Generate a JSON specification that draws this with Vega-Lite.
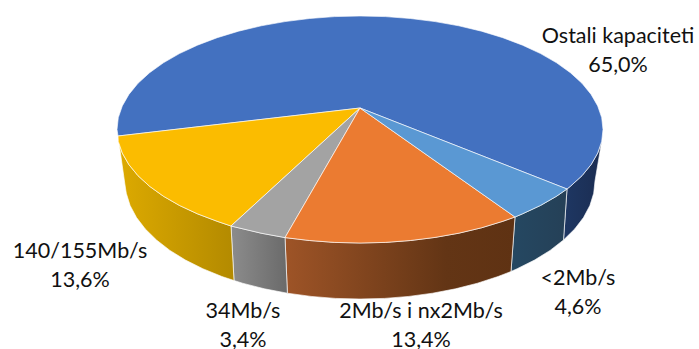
{"$schema":"https://vega.github.io/schema/vega-lite/v6.json","width":699,"height":349,"autosize":{"type":"none"},"padding":0,"background":"white","view":{"stroke":null},
"datasets":{
"side_blue":[{"i":0,"x":567,"y":189},{"i":1,"x":570.4,"y":186.3},{"i":2,"x":582,"y":175.7},{"i":3,"x":591.1,"y":164.6},{"i":4,"x":597.7,"y":153.1},{"i":5,"x":601.7,"y":141.4},{"i":6,"x":595,"y":181},{"i":7,"x":593.7,"y":193.3},{"i":8,"x":589.9,"y":205.5},{"i":9,"x":583.5,"y":217.5},{"i":10,"x":574.7,"y":229},{"i":11,"x":563.5,"y":240},{"i":12,"x":567,"y":189}],
"side_lightblue":[{"i":0,"x":515,"y":217},{"i":1,"x":522.6,"y":213.8},{"i":2,"x":540.6,"y":205.4},{"i":3,"x":556.6,"y":196.2},{"i":4,"x":567,"y":189},{"i":5,"x":563.5,"y":240},{"i":6,"x":550.1,"y":250.4},{"i":7,"x":534.6,"y":260},{"i":8,"x":517.2,"y":268.7},{"i":9,"x":511,"y":271.5},{"i":10,"x":515,"y":217}],
"side_orange":[{"i":0,"x":285,"y":237.6},{"i":1,"x":309.5,"y":240.5},{"i":2,"x":334.6,"y":242.4},{"i":3,"x":360,"y":243},{"i":4,"x":385.4,"y":242.4},{"i":5,"x":410.5,"y":240.5},{"i":6,"x":435.1,"y":237.4},{"i":7,"x":458.8,"y":233.2},{"i":8,"x":481.5,"y":227.8},{"i":9,"x":502.8,"y":221.3},{"i":10,"x":515,"y":217},{"i":11,"x":511,"y":271.5},{"i":12,"x":498.1,"y":276.5},{"i":13,"x":477.5,"y":283.2},{"i":14,"x":455.6,"y":288.8},{"i":15,"x":432.6,"y":293.2},{"i":16,"x":408.9,"y":296.4},{"i":17,"x":384.6,"y":298.4},{"i":18,"x":360,"y":299},{"i":19,"x":335.4,"y":298.4},{"i":20,"x":311.1,"y":296.4},{"i":21,"x":287.4,"y":293.2},{"i":22,"x":285,"y":237.6}],
"side_gray":[{"i":0,"x":231,"y":226},{"i":1,"x":238.5,"y":227.8},{"i":2,"x":261.2,"y":233.2},{"i":3,"x":285,"y":237.6},{"i":4,"x":287.4,"y":293.2},{"i":5,"x":264.4,"y":288.8},{"i":6,"x":242.5,"y":283.2},{"i":7,"x":234,"y":280.5},{"i":8,"x":231,"y":226}],
"side_yellow":[{"i":0,"x":118,"y":136},{"i":1,"x":118.3,"y":141.4},{"i":2,"x":122.3,"y":153.1},{"i":3,"x":128.9,"y":164.6},{"i":4,"x":138,"y":175.7},{"i":5,"x":149.6,"y":186.3},{"i":6,"x":163.4,"y":196.2},{"i":7,"x":179.4,"y":205.4},{"i":8,"x":197.4,"y":213.8},{"i":9,"x":217.2,"y":221.3},{"i":10,"x":231,"y":226},{"i":11,"x":234,"y":280.5},{"i":12,"x":221.9,"y":276.5},{"i":13,"x":202.8,"y":268.7},{"i":14,"x":185.4,"y":260},{"i":15,"x":169.9,"y":250.4},{"i":16,"x":156.5,"y":240},{"i":17,"x":145.3,"y":229},{"i":18,"x":136.5,"y":217.5},{"i":19,"x":130.1,"y":205.5},{"i":20,"x":126.3,"y":193.3},{"i":21,"x":125,"y":185},{"i":22,"x":118,"y":136}],
"top_blue":[{"i":0,"x":360,"y":108},{"i":1,"x":567,"y":189},{"i":2,"x":570.4,"y":186.3},{"i":3,"x":582,"y":175.7},{"i":4,"x":591.1,"y":164.6},{"i":5,"x":597.7,"y":153.1},{"i":6,"x":601.7,"y":141.4},{"i":7,"x":603,"y":129.5},{"i":8,"x":601.7,"y":117.6},{"i":9,"x":597.7,"y":105.9},{"i":10,"x":591.1,"y":94.4},{"i":11,"x":582,"y":83.3},{"i":12,"x":570.4,"y":72.7},{"i":13,"x":556.6,"y":62.8},{"i":14,"x":540.6,"y":53.6},{"i":15,"x":522.6,"y":45.2},{"i":16,"x":502.8,"y":37.7},{"i":17,"x":481.5,"y":31.2},{"i":18,"x":458.8,"y":25.8},{"i":19,"x":435.1,"y":21.6},{"i":20,"x":410.5,"y":18.5},{"i":21,"x":385.4,"y":16.6},{"i":22,"x":360,"y":16},{"i":23,"x":334.6,"y":16.6},{"i":24,"x":309.5,"y":18.5},{"i":25,"x":284.9,"y":21.6},{"i":26,"x":261.2,"y":25.8},{"i":27,"x":238.5,"y":31.2},{"i":28,"x":217.2,"y":37.7},{"i":29,"x":197.4,"y":45.2},{"i":30,"x":179.4,"y":53.6},{"i":31,"x":163.4,"y":62.8},{"i":32,"x":149.6,"y":72.7},{"i":33,"x":138,"y":83.3},{"i":34,"x":128.9,"y":94.4},{"i":35,"x":122.3,"y":105.9},{"i":36,"x":118.3,"y":117.6},{"i":37,"x":117,"y":129.5},{"i":38,"x":118,"y":136},{"i":39,"x":360,"y":108}],
"top_yellow":[{"i":0,"x":360,"y":108},{"i":1,"x":118,"y":136},{"i":2,"x":118.3,"y":141.4},{"i":3,"x":122.3,"y":153.1},{"i":4,"x":128.9,"y":164.6},{"i":5,"x":138,"y":175.7},{"i":6,"x":149.6,"y":186.3},{"i":7,"x":163.4,"y":196.2},{"i":8,"x":179.4,"y":205.4},{"i":9,"x":197.4,"y":213.8},{"i":10,"x":217.2,"y":221.3},{"i":11,"x":231,"y":226},{"i":12,"x":360,"y":108}],
"top_gray":[{"i":0,"x":360,"y":108},{"i":1,"x":231,"y":226},{"i":2,"x":238.5,"y":227.8},{"i":3,"x":261.2,"y":233.2},{"i":4,"x":285,"y":237.6},{"i":5,"x":360,"y":108}],
"top_orange":[{"i":0,"x":360,"y":108},{"i":1,"x":285,"y":237.6},{"i":2,"x":309.5,"y":240.5},{"i":3,"x":334.6,"y":242.4},{"i":4,"x":360,"y":243},{"i":5,"x":385.4,"y":242.4},{"i":6,"x":410.5,"y":240.5},{"i":7,"x":435.1,"y":237.4},{"i":8,"x":458.8,"y":233.2},{"i":9,"x":481.5,"y":227.8},{"i":10,"x":502.8,"y":221.3},{"i":11,"x":515,"y":217},{"i":12,"x":360,"y":108}],
"top_lightblue":[{"i":0,"x":360,"y":108},{"i":1,"x":515,"y":217},{"i":2,"x":522.6,"y":213.8},{"i":3,"x":540.6,"y":205.4},{"i":4,"x":556.6,"y":196.2},{"i":5,"x":567,"y":189},{"i":6,"x":360,"y":108}],
"labels":[{"label":"Ostali kapaciteti\n65,0%","x":618,"y":43},{"label":"140/155Mb/s\n13,6%","x":80,"y":258},{"label":"34Mb/s\n3,4%","x":243,"y":318},{"label":"2Mb/s i nx2Mb/s\n13,4%","x":421,"y":318},{"label":"<2Mb/s\n4,6%","x":578,"y":285}]
},
"encoding":{
"x":{"field":"x","type":"quantitative","scale":{"domain":[0,699],"nice":false,"zero":false},"axis":null},
"y":{"field":"y","type":"quantitative","scale":{"domain":[349,0],"nice":false,"zero":false},"axis":null}
},
"layer":[
{"data":{"name":"side_blue"},"mark":{"type":"line","fill":{"gradient":"linear","x1":0,"y1":0,"x2":1,"y2":0,"stops":[{"offset":0,"color":"#1E3763"},{"offset":1,"color":"#1B2D52"}]},"stroke":"#ffffff","strokeWidth":0.8,"strokeOpacity":0.8},"encoding":{"order":{"field":"i"}}},
{"data":{"name":"side_lightblue"},"mark":{"type":"line","fill":{"gradient":"linear","x1":0,"y1":0,"x2":1,"y2":0,"stops":[{"offset":0,"color":"#254862"},{"offset":1,"color":"#254057"}]},"stroke":"#ffffff","strokeWidth":0.8,"strokeOpacity":0.8},"encoding":{"order":{"field":"i"}}},
{"data":{"name":"side_orange"},"mark":{"type":"line","fill":{"gradient":"linear","x1":0,"y1":0,"x2":1,"y2":0,"stops":[{"offset":0,"color":"#9E5427"},{"offset":0.7,"color":"#633515"},{"offset":1,"color":"#5F3213"}]},"stroke":"#ffffff","strokeWidth":0.8,"strokeOpacity":0.8},"encoding":{"order":{"field":"i"}}},
{"data":{"name":"side_gray"},"mark":{"type":"line","fill":{"gradient":"linear","x1":0,"y1":0,"x2":1,"y2":0,"stops":[{"offset":0,"color":"#8C8C8C"},{"offset":1,"color":"#6A6A6A"}]},"stroke":"#ffffff","strokeWidth":0.8,"strokeOpacity":0.8},"encoding":{"order":{"field":"i"}}},
{"data":{"name":"side_yellow"},"mark":{"type":"line","fill":{"gradient":"linear","x1":0,"y1":0,"x2":1,"y2":0,"stops":[{"offset":0,"color":"#DDAA00"},{"offset":1,"color":"#B38A00"}]},"stroke":"#ffffff","strokeWidth":0.8,"strokeOpacity":0.8},"encoding":{"order":{"field":"i"}}},
{"data":{"name":"top_blue"},"mark":{"type":"line","fill":"#4371C0","stroke":"#ffffff","strokeWidth":0.8,"strokeOpacity":0.8},"encoding":{"order":{"field":"i"}}},
{"data":{"name":"top_yellow"},"mark":{"type":"line","fill":"#FBBC00","stroke":"#ffffff","strokeWidth":0.8,"strokeOpacity":0.8},"encoding":{"order":{"field":"i"}}},
{"data":{"name":"top_gray"},"mark":{"type":"line","fill":"#A3A3A3","stroke":"#ffffff","strokeWidth":0.8,"strokeOpacity":0.8},"encoding":{"order":{"field":"i"}}},
{"data":{"name":"top_orange"},"mark":{"type":"line","fill":"#EB7B31","stroke":"#ffffff","strokeWidth":0.8,"strokeOpacity":0.8},"encoding":{"order":{"field":"i"}}},
{"data":{"name":"top_lightblue"},"mark":{"type":"line","fill":"#5A98D3","stroke":"#ffffff","strokeWidth":0.8,"strokeOpacity":0.8},"encoding":{"order":{"field":"i"}}},
{"data":{"name":"labels"},"mark":{"type":"text","font":"Lato","fontSize":21.5,"color":"#111111","align":"center","baseline":"alphabetic","lineBreak":"\n","lineHeight":29},"encoding":{"text":{"field":"label"}}}
]}
